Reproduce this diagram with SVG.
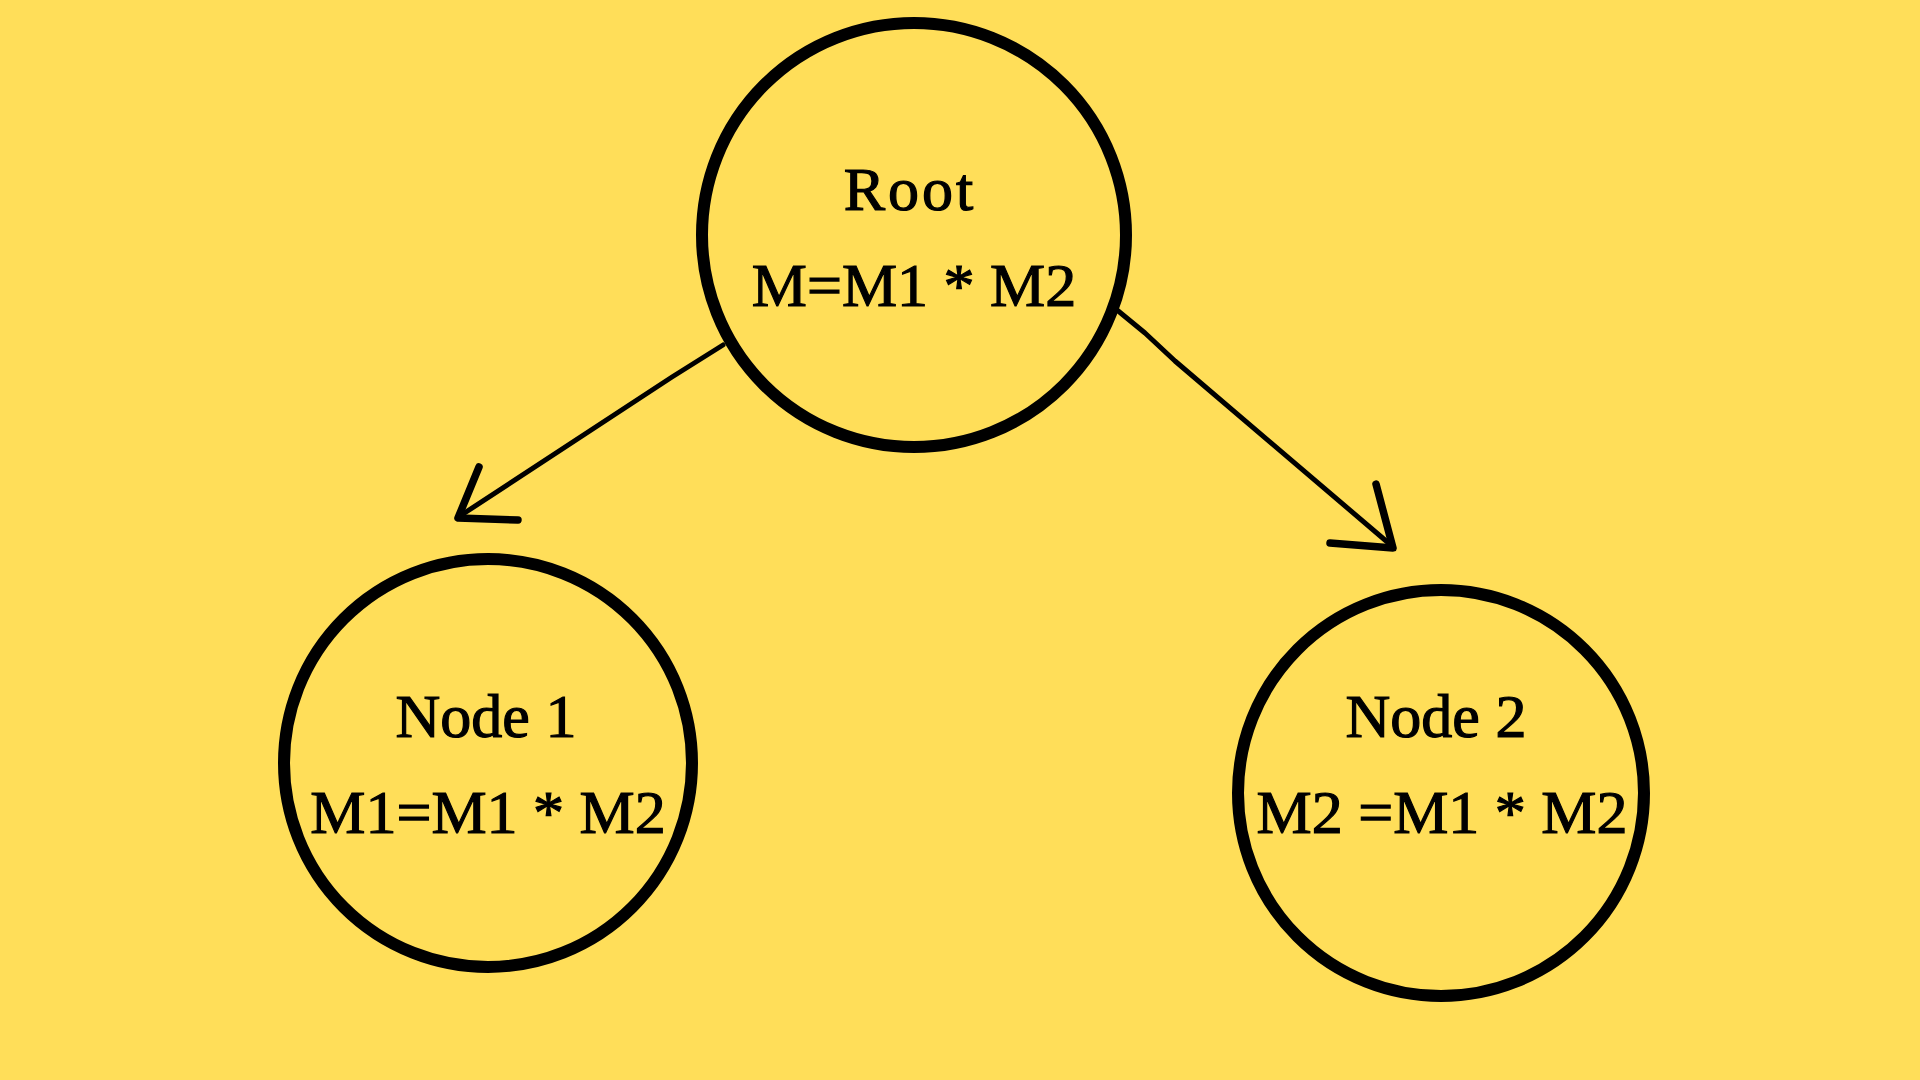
<svg xmlns="http://www.w3.org/2000/svg" width="1920" height="1080" viewBox="0 0 1920 1080">
<style>
.ring{fill:none;stroke:#000;stroke-width:12}
.lbl{font-family:"Liberation Serif","DejaVu Serif",serif;font-size:62px;fill:#000;stroke:#000;stroke-width:1.2;text-anchor:middle}
.edge{fill:none;stroke:#000;stroke-width:5;stroke-linecap:round;stroke-linejoin:round}
.head{fill:none;stroke:#000;stroke-width:7.5;stroke-linecap:round;stroke-linejoin:round}
</style>
<rect width="1920" height="1080" fill="#FFDE59"/>
<g id="connectors">
<path class="edge" d="M723,345 L672,377 L463,514"/>
<polyline class="head" points="479,467 458,518 518,520"/>
<path class="edge" d="M1117,310 L1145,333 L1175,361 L1392,546"/>
<polyline class="head" points="1376,484 1393,548 1330,543"/>
</g>
<g id="root">
<circle class="ring" cx="914" cy="235" r="212" stroke-width="13"/>
<text class="lbl" x="910" y="210" letter-spacing="3">Root</text>
<text class="lbl" x="914" y="306">M=M1 * M2</text>
</g>
<g id="node1">
<circle class="ring" cx="488" cy="763" r="204" stroke-width="11"/>
<text class="lbl" x="486" y="737">Node 1</text>
<text class="lbl" x="488" y="833">M1=M1 * M2</text>
</g>
<g id="node2">
<circle class="ring" cx="1441" cy="793" r="203"/>
<text class="lbl" x="1436" y="737">Node 2</text>
<text class="lbl" x="1442" y="833">M2 =M1 * M2</text>
</g>
</svg>
